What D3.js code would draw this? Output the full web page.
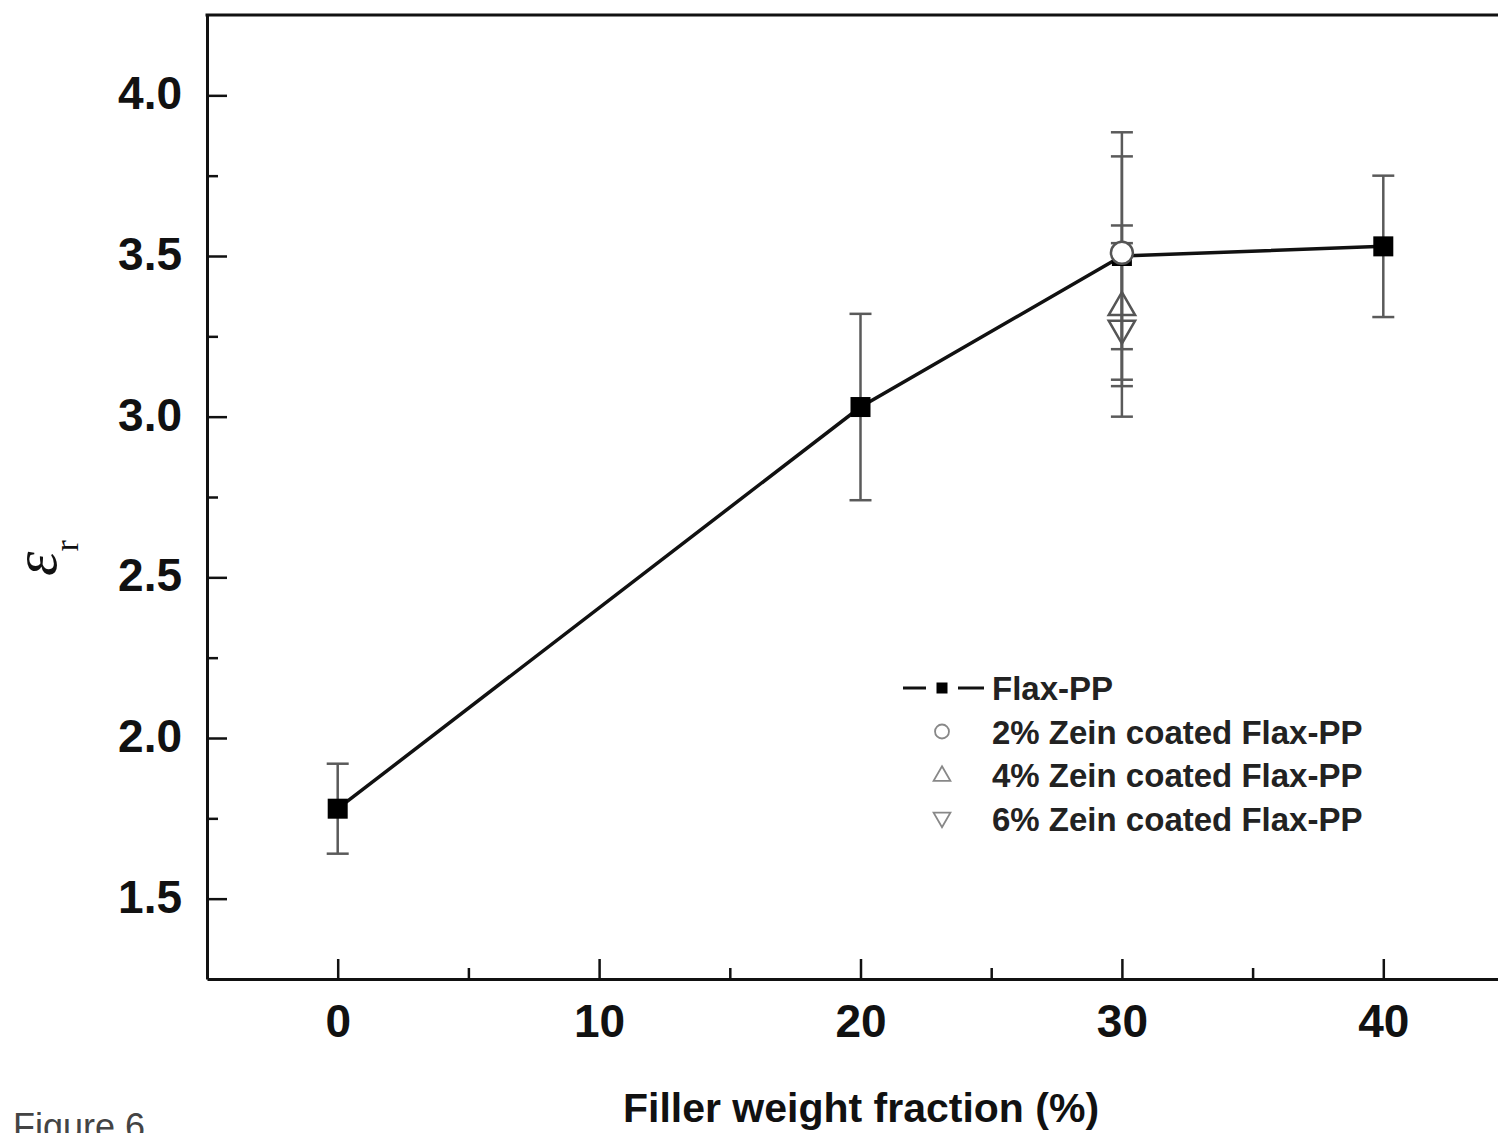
<!DOCTYPE html>
<html>
<head>
<meta charset="utf-8">
<script src="https://cdn.jsdelivr.net/npm/d3@7/dist/d3.min.js"></script>
<style>
  body { margin: 0; background: #fff; }
  svg { display: block; }
</style>
</head>
<body>
<div id="chart"></div>
<script>
// data
var flaxX = [0, 20, 30, 40];
var flaxY = [1.78, 3.03, 3.50, 3.53];
var flaxErr = [0.14, 0.29, 0.385, 0.22];

var zeinNames = ["2% Zein coated Flax-PP", "4% Zein coated Flax-PP", "6% Zein coated Flax-PP"];
var zeinX = [30, 30, 30];
var zeinY = [3.51, 3.345, 3.27];
var zeinErr = [0.30, 0.25, 0.27];
var zeinShapes = ["circle", "up", "down"];

var xTicks = [0, 10, 20, 30, 40];
var xMinor = [5, 15, 25, 35];
var yTicks = [1.5, 2.0, 2.5, 3.0, 3.5, 4.0];
var yMinor = [1.75, 2.25, 2.75, 3.25, 3.75];

(function() {
    var width = 1498, height = 1133;
    var pLeft = 207, pTop = 15, pRight = 1514, pBottom = 979;

    var svg = d3.select("#chart").append("svg")
        .attr("width", width)
        .attr("height", height);

    var x = d3.scaleLinear().domain([-5, 45]).range([pLeft, pRight]);
    var y = d3.scaleLinear().domain([1.25, 4.25]).range([pBottom, pTop]);

    var font = "'Liberation Sans', Arial, sans-serif";

    // axes, ticks point inward
    svg.append("g").attr("transform", "translate(0," + pBottom + ")")
        .call(d3.axisBottom(x).tickValues(xTicks).tickSizeInner(-20).tickSizeOuter(0)
            .tickPadding(25).tickFormat(d3.format("d")));
    svg.append("g").attr("transform", "translate(0," + pBottom + ")")
        .call(d3.axisBottom(x).tickValues(xMinor).tickSize(-11).tickFormat(""))
        .select(".domain").remove();

    var gy = svg.append("g").attr("transform", "translate(" + pLeft + ",0)")
        .call(d3.axisLeft(y).tickValues(yTicks).tickSizeInner(-20).tickSizeOuter(0)
            .tickPadding(25).tickFormat(d3.format(".1f")));
    svg.append("g").attr("transform", "translate(" + pLeft + ",0)")
        .call(d3.axisLeft(y).tickValues(yMinor).tickSize(-11).tickFormat(""))
        .select(".domain").remove();

    svg.selectAll(".domain").style("stroke", "#111").style("stroke-width", 3);
    svg.selectAll(".tick line").style("stroke", "#111").style("stroke-width", 2.5);
    svg.selectAll(".tick text")
        .style("font-family", font)
        .style("font-weight", "bold")
        .style("font-size", "46px")
        .style("fill", "#111");
    gy.selectAll(".tick text").attr("dy", "0.29em");

    // top and right frame
    svg.append("line").attr("x1", pLeft - 1.5).attr("x2", pRight).attr("y1", pTop).attr("y2", pTop)
        .style("stroke", "#111").style("stroke-width", 3);
    svg.append("line").attr("x1", pRight).attr("x2", pRight).attr("y1", pTop).attr("y2", pBottom)
        .style("stroke", "#111").style("stroke-width", 3);

    // axis titles
    svg.append("text")
        .attr("x", 861).attr("y", 1122)
        .attr("text-anchor", "middle")
        .style("font-family", font).style("font-weight", "bold").style("font-size", "41px")
        .style("fill", "#111")
        .text("Filler weight fraction (%)");

    var ylab = svg.append("text")
        .attr("transform", "translate(56,576) rotate(-90)")
        .style("font-family", "'Liberation Serif', serif")
        .style("fill", "#111");
    ylab.append("tspan").style("font-style", "italic").style("font-size", "62px").text("ε");
    ylab.append("tspan").attr("dy", 22).style("font-size", "34px").text("r");

    svg.append("text")
        .attr("x", 13).attr("y", 1139)
        .style("font-family", font).style("font-size", "36px")
        .style("fill", "#444")
        .text("Figure 6");

    // error bars
    function errorBars(xs, ys, es, color) {
        var g = svg.append("g");
        xs.forEach(function(d, i) {
            var cx = x(d), y1 = y(ys[i] + es[i]), y2 = y(ys[i] - es[i]);
            g.append("line").attr("x1", cx).attr("x2", cx).attr("y1", y1).attr("y2", y2)
                .style("stroke", color).style("stroke-width", 2.5);
            [y1, y2].forEach(function(yy) {
                g.append("line").attr("x1", cx - 11).attr("x2", cx + 11).attr("y1", yy).attr("y2", yy)
                    .style("stroke", color).style("stroke-width", 2.5);
            });
        });
    }
    errorBars(zeinX, zeinY, zeinErr, "#5a5a5a");
    errorBars(flaxX, flaxY, flaxErr, "#5a5a5a");

    // Flax-PP line and markers
    var line = d3.line().x(function(d) { return x(d); }).y(function(d, i) { return y(flaxY[i]); });
    svg.append("path")
        .attr("d", line(flaxX))
        .style("fill", "none").style("stroke", "#111").style("stroke-width", 3.5);

    svg.selectAll("rect.flax")
        .data(flaxX)
        .enter().append("rect")
            .attr("class", "flax")
            .attr("x", function(d) { return x(d) - 10; })
            .attr("y", function(d, i) { return y(flaxY[i]) - 10; })
            .attr("width", 20).attr("height", 20)
            .style("fill", "#000");

    // zein markers, drawn over the square
    var symbolPath = {
        circle: function(s) { return d3.symbol(d3.symbolCircle, s * s * 0.78)(); },
        up: function(s) { return "M0," + (-s * 0.62) + "L" + (s * 0.6) + "," + (s * 0.42) + "L" + (-s * 0.6) + "," + (s * 0.42) + "Z"; },
        down: function(s) { return "M0," + (s * 0.62) + "L" + (s * 0.6) + "," + (-s * 0.42) + "L" + (-s * 0.6) + "," + (-s * 0.42) + "Z"; }
    };
    svg.selectAll("path.zein")
        .data(zeinX)
        .enter().append("path")
            .attr("class", "zein")
            .attr("transform", function(d, i) { return "translate(" + x(d) + "," + y(zeinY[i]) + ")"; })
            .attr("d", function(d, i) { return symbolPath[zeinShapes[i]](22); })
            .style("fill", function(d, i) { return zeinShapes[i] === "circle" ? "#fff" : "none"; })
            .style("stroke", "#555").style("stroke-width", 2.5);

    // legend
    var legX = 942, legY0 = 688, legStep = 43.5, textX = 992;
    var leg = svg.append("g");
    leg.append("line").attr("x1", 903).attr("x2", 926).attr("y1", legY0).attr("y2", legY0)
        .style("stroke", "#111").style("stroke-width", 3);
    leg.append("line").attr("x1", 958).attr("x2", 984).attr("y1", legY0).attr("y2", legY0)
        .style("stroke", "#111").style("stroke-width", 3);
    leg.append("rect").attr("x", legX - 5.5).attr("y", legY0 - 5.5).attr("width", 11).attr("height", 11)
        .style("fill", "#000");
    leg.selectAll("path.legsym")
        .data(zeinShapes)
        .enter().append("path")
            .attr("class", "legsym")
            .attr("transform", function(d, i) { return "translate(" + legX + "," + (legY0 + legStep * (i + 1)) + ")"; })
            .attr("d", function(d) { return symbolPath[d](14); })
            .style("fill", "none").style("stroke", "#888").style("stroke-width", 1.8);
    leg.selectAll("text")
        .data(["Flax-PP"].concat(zeinNames))
        .enter().append("text")
            .attr("x", textX)
            .attr("y", function(d, i) { return legY0 + legStep * i + 12; })
            .style("font-family", font).style("font-weight", "bold").style("font-size", "33px")
            .style("fill", "#222")
            .text(function(d) { return d; });
}());
</script>
</body>
</html>
